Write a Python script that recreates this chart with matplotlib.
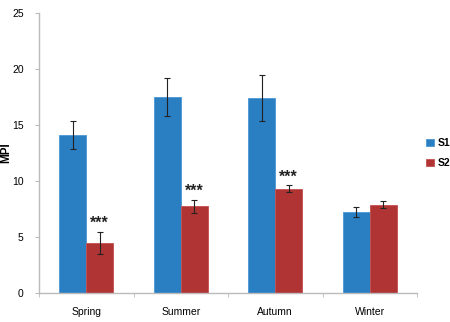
import matplotlib.pyplot as plt
import numpy as np

seasons = ['Spring', 'Summer', 'Autumn', 'Winter']
s1 = [14.1, 17.5, 17.4, 7.2]
s1_err = [1.25, 1.7, 2.05, 0.45]
s2 = [4.45, 7.75, 9.3, 7.9]
s2_err = [1.0, 0.57, 0.3, 0.33]
signif = ['***', '***', '***', '']

plt.rcParams['font.family'] = ['Liberation Sans', 'DejaVu Sans']

fig = plt.figure(figsize=(4.5, 3.22), dpi=100)
ax = fig.add_axes([0.0867, 0.09, 0.84, 0.8696])

x = np.arange(len(seasons))
w = 0.286
blue = '#2a7ec2'
red = '#b03434'

ax.bar(x - w / 2, s1, w, color=blue, edgecolor='#4a96d6', linewidth=0.6,
       label='S1', zorder=2)
ax.bar(x + w / 2, s2, w, color=red, edgecolor='#c45050', linewidth=0.6,
       label='S2', zorder=2)
ax.errorbar(x - w / 2, s1, yerr=s1_err, fmt='none', ecolor='#222222',
            elinewidth=0.8, capsize=2, capthick=0.8, zorder=3)
ax.errorbar(x + w / 2, s2, yerr=s2_err, fmt='none', ecolor='#222222',
            elinewidth=0.8, capsize=2, capthick=0.8, zorder=3)

for xi, v, e, s in zip(x, s2, s2_err, signif):
    if s:
        ax.text(xi + w / 2, v + e + 0.1, s, ha='center', va='bottom',
                fontsize=11.5, fontweight='bold', color='#222222')

ax.set_xlim(-0.5, len(seasons) - 0.5)
ax.set_ylim(0, 25)
ax.set_yticks([0, 5, 10, 15, 20, 25])
ax.set_xticks(x)
ax.set_xticklabels(seasons, fontsize=7.5)
ax.tick_params(axis='x', length=0, pad=10)
ax.set_xticks(np.arange(-0.5, len(seasons)), minor=True)
ax.tick_params(axis='x', which='minor', length=3, color='#bbbbbb',
               direction='out')
ax.tick_params(axis='y', labelsize=7.5, length=3, color='#bbbbbb', pad=8)

for side in ['top', 'right']:
    ax.spines[side].set_visible(False)
for side in ['left', 'bottom']:
    ax.spines[side].set_color('#bbbbbb')
    ax.spines[side].set_linewidth(1.0)

ax.set_ylabel('MPI', fontsize=8.5, fontweight='bold')
ax.yaxis.set_label_coords(-0.072, 0.5)

leg = ax.legend(loc='center left', bbox_to_anchor=(1.0, 0.5), frameon=False,
                fontsize=7.5, handlelength=0.7, handleheight=0.7,
                handletextpad=0.4, labelspacing=1.0)
for t in leg.get_texts():
    t.set_fontweight('bold')

fig.savefig('out.png', dpi=100)
